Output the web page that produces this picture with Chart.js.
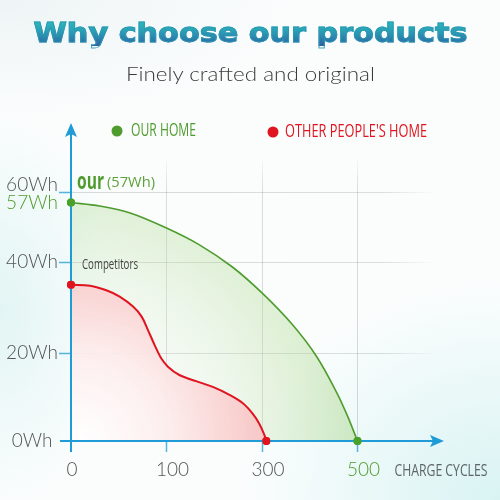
<!DOCTYPE html>
<html>
<head>
<meta charset="utf-8">
<script src="https://cdn.jsdelivr.net/npm/chart.js@4.4.1/dist/chart.umd.min.js"></script>
<style>
  html, body { margin:0; padding:0; width:500px; height:500px; overflow:hidden; }
  body {
    background:
      radial-gradient(ellipse 260px 220px at 100% 100%, #d9f3f3 0%, rgba(255,255,255,0) 100%),
      radial-gradient(ellipse 120px 200px at 0% 62%, #e2f5f4 0%, rgba(255,255,255,0) 100%),
      radial-gradient(ellipse 300px 120px at 0% 0%, #eef4f5 0%, rgba(255,255,255,0) 100%),
      #fbfdfd;
    position: relative;
  }
  #chart { position:absolute; left:0; top:0; }
  .hl { position:absolute; left:0; width:500px; text-align:center; white-space:nowrap; }
  .hl span { display:inline-block; transform-origin: 50% 50%; }
  #title { top:20px; font: bold 26px/26px "DejaVu Sans", sans-serif; }
  #title span {
    background: linear-gradient(180deg, #2cbcbc 0%, #2a9db4 45%, #2d62a2 100%);
    -webkit-background-clip: text; background-clip: text; color: transparent;
    -webkit-text-stroke: 0.9px rgba(42,150,180,0.85);
  }
  #subtitle { top:64px; font: 300 19px/19px Lato, Roboto, sans-serif; color:#3a3a3a; }
</style>
</head>
<body>
<canvas id="chart" width="500" height="500"></canvas>
<div class="hl" id="title"><span data-w="434">Why choose our products</span></div>
<div class="hl" id="subtitle"><span data-w="249">Finely crafted and original</span></div>
<script>
// ---------- data ----------
const xTickValues = [0, 100, 300, 500];
const xTickLabels = ['0', '100', '300', '500'];
const xGridValues = [100, 300, 500];
const yTickValues = [0, 20, 40, 57, 60];
const yTickLabels = ['0Wh', '20Wh', '40Wh', '57Wh', '60Wh'];
const yGridValues = [20, 40, 60];
const xAxisTitle = 'CHARGE CYCLES';

const oursLabel = 'OUR HOME';
const oursCycles = [0, 30, 62, 100, 169, 238, 300, 364, 415, 457, 479, 500];
const oursWh     = [57, 56.0, 54.0, 49.7, 44.9, 38.9, 33.2, 26.2, 19.1, 10.9, 5.7, 0];

const theirsLabel = "OTHER PEOPLE'S HOME";
const theirsCycles = [0, 20, 37, 51, 65, 74, 80.5, 87.5, 94.5, 103, 127, 162, 197, 232, 260, 280, 294, 305, 309];
const theirsWh     = [35, 34.8, 33.8, 32.4, 30.2, 28.0, 25.1, 21.8, 18.8, 16.9, 15.0, 13.6, 12.3, 10.5, 8.6, 6.3, 4.0, 1.4, 0];

const oursNote = 'our';
const theirsNote = 'Competitors';

// ---------- title fitting ----------
document.querySelectorAll('.hl span').forEach(s => {
  const w = s.getBoundingClientRect().width;
  s.style.transform = 'scaleX(' + (parseFloat(s.dataset.w) / w) + ')';
});

// ---------- piecewise scale (equal visual spacing for uneven ticks) ----------
class PiecewiseScale extends Chart.LinearScale {
  _frac(v) {
    const sv = this.options.stopValues, sf = this.options.stopFractions;
    if (v <= sv[0]) return sf[0] + (v - sv[0]) * (sf[1] - sf[0]) / (sv[1] - sv[0]);
    for (let i = 1; i < sv.length; i++) {
      if (v <= sv[i] || i === sv.length - 1) {
        return sf[i - 1] + (v - sv[i - 1]) * (sf[i] - sf[i - 1]) / (sv[i] - sv[i - 1]);
      }
    }
  }
  _val(f) {
    const sv = this.options.stopValues, sf = this.options.stopFractions;
    for (let i = 1; i < sf.length; i++) {
      if (f <= sf[i] || i === sf.length - 1) {
        return sv[i - 1] + (f - sf[i - 1]) * (sv[i] - sv[i - 1]) / (sf[i] - sf[i - 1]);
      }
    }
  }
  getPixelForValue(value) {
    if (value === null || value === undefined || isNaN(value)) return NaN;
    const f = this._frac(value);
    return this.isHorizontal() ? this.left + f * this.width : this.bottom - f * this.height;
  }
  getValueForPixel(pixel) {
    const f = this.isHorizontal() ? (pixel - this.left) / this.width : (this.bottom - pixel) / this.height;
    return this._val(f);
  }
}
PiecewiseScale.id = 'piecewise';
PiecewiseScale.defaults = Chart.LinearScale.defaults;
Chart.register(PiecewiseScale);

// ---------- helpers ----------
const GREEN = '#4f9c2e', RED = '#e0141f', BLUE = '#1f9bd7', GRAY = '#555';
const CONDENSED = '"Open Sans", "Noto Sans", sans-serif';
const TICKFONT = '300 19px Lato, Roboto, sans-serif';

function drawText(ctx, text, x, y, font, color, align, width) {
  ctx.save();
  ctx.font = font;
  const w = ctx.measureText(text).width;
  const sx = width ? width / w : 1;
  ctx.translate(x, y);
  ctx.scale(sx, 1);
  ctx.textAlign = align || 'left';
  ctx.textBaseline = 'middle';
  ctx.fillStyle = color;
  ctx.fillText(text, 0, 0);
  ctx.restore();
}
function toPoints(xs, ys) { return xs.map((x, i) => ({ x, y: ys[i] })); }
function endRadius(r) { return c => (c.dataIndex === 0 || c.dataIndex === c.dataset.data.length - 1) ? r : 0; }

function greenFill(c) {
  const ch = c.chart; if (!ch.chartArea) return 'rgba(0,0,0,0)';
  const ox = ch.scales.x.getPixelForValue(0), oy = ch.scales.y.getPixelForValue(0);
  const g = ch.ctx.createRadialGradient(ox, oy, 0, ox, oy, 295);
  g.addColorStop(0, 'rgba(255,255,255,0)');
  g.addColorStop(0.45, 'rgba(215,238,205,0.22)');
  g.addColorStop(1, 'rgba(150,205,110,0.42)');
  return g;
}
function redFill(c) {
  const ch = c.chart; if (!ch.chartArea) return 'rgba(0,0,0,0)';
  const ox = ch.scales.x.getPixelForValue(0), oy = ch.scales.y.getPixelForValue(0);
  const g = ch.ctx.createRadialGradient(ox + 10, oy, 0, ox + 10, oy, 195);
  g.addColorStop(0, 'rgba(255,255,255,0.9)');
  g.addColorStop(0.45, 'rgba(253,236,236,0.9)');
  g.addColorStop(1, 'rgba(247,190,190,0.92)');
  return g;
}

const decor = {
  id: 'decor',
  beforeDatasetsDraw(chart) {
    const { ctx, chartArea: a, scales: { x: xs, y: ys } } = chart;
    ctx.save();
    ctx.lineWidth = 1;
    const gh = ctx.createLinearGradient(a.left, 0, a.right - 8, 0);
    gh.addColorStop(0, 'rgba(0,0,0,0.14)'); gh.addColorStop(0.85, 'rgba(0,0,0,0.12)'); gh.addColorStop(1, 'rgba(0,0,0,0)');
    ctx.strokeStyle = gh;
    yGridValues.forEach(v => {
      const y = Math.round(ys.getPixelForValue(v)) + 0.5;
      ctx.beginPath(); ctx.moveTo(a.left, y); ctx.lineTo(a.right - 8, y); ctx.stroke();
    });
    const gv = ctx.createLinearGradient(0, a.top + 32, 0, a.bottom);
    gv.addColorStop(0, 'rgba(0,0,0,0)'); gv.addColorStop(0.12, 'rgba(0,0,0,0.13)'); gv.addColorStop(1, 'rgba(0,0,0,0.14)');
    ctx.strokeStyle = gv;
    xGridValues.forEach(v => {
      const x = Math.round(xs.getPixelForValue(v)) + 0.5;
      ctx.beginPath(); ctx.moveTo(x, a.top + 32); ctx.lineTo(x, a.bottom); ctx.stroke();
    });
    ctx.restore();
  },
  afterDatasetsDraw(chart) {
    const { ctx, chartArea: a, scales: { x: xs, y: ys } } = chart;
    const ox = xs.getPixelForValue(0), oy = ys.getPixelForValue(0);
    ctx.save();
    // tick marks
    ctx.strokeStyle = 'rgba(31,155,215,0.75)'; ctx.lineWidth = 1.5;
    yGridValues.forEach(v => {
      const y = Math.round(ys.getPixelForValue(v)) + 0.5;
      ctx.beginPath(); ctx.moveTo(ox - 12, y); ctx.lineTo(ox, y); ctx.stroke();
    });
    xGridValues.forEach(v => {
      const x = Math.round(xs.getPixelForValue(v)) + 0.5;
      ctx.beginPath(); ctx.moveTo(x, oy); ctx.lineTo(x, oy + 11); ctx.stroke();
    });
    // axes
    ctx.strokeStyle = BLUE; ctx.fillStyle = BLUE; ctx.lineWidth = 2;
    ctx.beginPath(); ctx.moveTo(ox, oy + 11); ctx.lineTo(ox, a.top + 10); ctx.stroke();
    ctx.beginPath(); ctx.moveTo(ox - 11, oy); ctx.lineTo(a.right - 10, oy); ctx.stroke();
    ctx.beginPath();
    ctx.moveTo(ox, a.top); ctx.lineTo(ox + 6, a.top + 14); ctx.lineTo(ox, a.top + 11); ctx.lineTo(ox - 6, a.top + 14); ctx.closePath(); ctx.fill();
    ctx.beginPath();
    ctx.moveTo(a.right - 1, oy); ctx.lineTo(a.right - 15, oy - 6); ctx.lineTo(a.right - 12, oy); ctx.lineTo(a.right - 15, oy + 6); ctx.closePath(); ctx.fill();
    ctx.restore();

    // redraw end points on top of axes
    chart.data.datasets.forEach((ds, i) => {
      const meta = chart.getDatasetMeta(i);
      [meta.data[0], meta.data[meta.data.length - 1]].forEach(p => p && p.draw(ctx, { left: 0, top: 0, right: 500, bottom: 500 }));
    });

    // y tick labels (nudge labels that would collide)
    const yl = yTickValues.map((v, i) => ({ v, t: yTickLabels[i], y: ys.getPixelForValue(v) }));
    yl.sort((p, q) => q.y - p.y);
    for (let i = 1; i < yl.length; i++) {
      if (yl[i - 1].y - yl[i].y < 18) yl[i].y = yl[i - 1].y - 18;
    }
    yl.forEach(l => drawText(ctx, l.t, 32, l.y, TICKFONT, l.v === oursWh[0] ? GREEN : GRAY, 'center'));
    // x tick labels
    xTickValues.forEach((v, i) => {
      const col = v === oursCycles[oursCycles.length - 1] ? GREEN : GRAY;
      drawText(ctx, xTickLabels[i], xs.getPixelForValue(v) + (v === 0 ? 1 : 6), oy + 29, TICKFONT, col, 'center');
    });
    drawText(ctx, xAxisTitle, xs.getPixelForValue(500) + 37, oy + 30, '17px ' + CONDENSED, '#5f6468', 'left', 93);

    // legend
    const items = [
      { label: oursLabel, color: GREEN, dx: 117, tx: 131, w: 65, y: 131 },
      { label: theirsLabel, color: RED, dx: 273, tx: 285, w: 142, y: 132 }
    ];
    items.forEach(it => {
      ctx.beginPath(); ctx.fillStyle = it.color; ctx.arc(it.dx, it.y, 5.5, 0, Math.PI * 2); ctx.fill();
      drawText(ctx, it.label, it.tx, it.y, '18px ' + CONDENSED, it.color, 'left', it.w);
    });

    // annotations
    const y57 = ys.getPixelForValue(oursWh[0]);
    drawText(ctx, oursNote, ox + 6, y57 - 20, 'bold 23px ' + CONDENSED, GREEN, 'left', 27);
    drawText(ctx, '(' + oursWh[0] + 'Wh)', ox + 36, y57 - 19, '14px ' + CONDENSED, '#5ea23c', 'left', 48);
    const y35 = ys.getPixelForValue(theirsWh[0]);
    drawText(ctx, theirsNote, ox + 11, y35 - 20, '15px ' + CONDENSED, '#444', 'left', 56);
  }
};

new Chart(document.getElementById('chart'), {
  type: 'line',
  data: {
    datasets: [
      {
        label: theirsLabel,
        data: toPoints(theirsCycles, theirsWh),
        borderColor: RED, borderWidth: 2,
        backgroundColor: redFill, fill: 'origin',
        pointRadius: endRadius(4), pointBackgroundColor: RED, pointBorderWidth: 0,
        tension: 0.35, clip: false, order: 1
      },
      {
        label: oursLabel,
        data: toPoints(oursCycles, oursWh),
        borderColor: GREEN, borderWidth: 1.6,
        backgroundColor: greenFill, fill: 'origin',
        pointRadius: endRadius(4), pointBackgroundColor: '#4aa12a', pointBorderWidth: 0,
        tension: 0.35, clip: false, order: 2
      }
    ]
  },
  options: {
    responsive: false, animation: false, devicePixelRatio: 1,
    layout: { padding: { left: 71, right: 55, top: 123, bottom: 59 } },
    scales: {
      x: { type: 'piecewise', display: false, min: 0, max: 683,
           stopValues: [0, 100, 300, 500, 683], stopFractions: [0, 0.2553, 0.5107, 0.766, 1] },
      y: { type: 'piecewise', display: false, min: 0, max: 80,
           stopValues: [0, 20, 40, 60, 80], stopFractions: [0, 0.2767, 0.5629, 0.783, 1] }
    },
    plugins: { legend: { display: false }, tooltip: { enabled: false } }
  },
  plugins: [decor]
});
</script>
</body>
</html>
